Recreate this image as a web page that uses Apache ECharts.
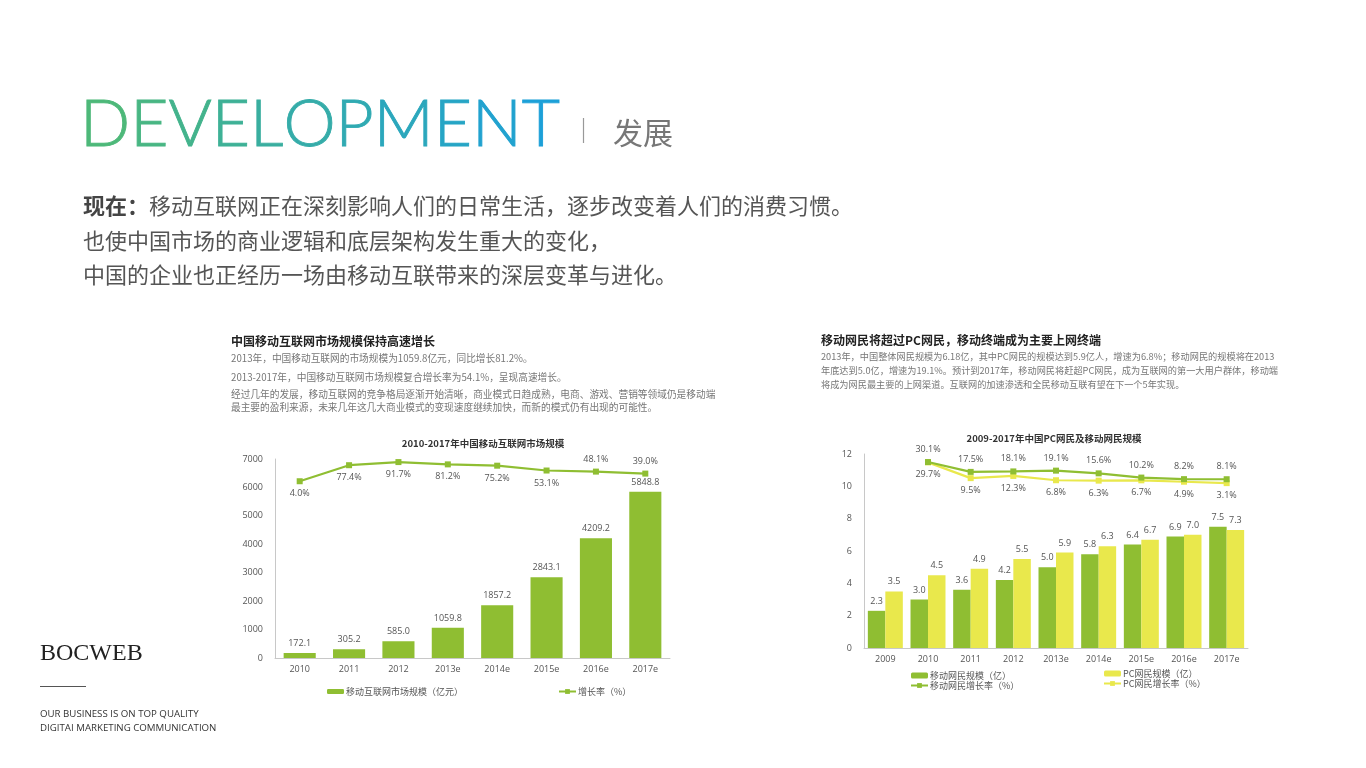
<!DOCTYPE html>
<html><head><meta charset="utf-8">
<script src="https://cdn.jsdelivr.net/npm/echarts@6/dist/echarts.min.js"></script>
<style>html,body{margin:0;padding:0;background:#fff}#c{width:1366px;height:768px}</style>
</head><body><div id="c"></div>
<script>
// ---------- data ----------
const marketYears = ['2010','2011','2012','2013e','2014e','2015e','2016e','2017e'];
const marketSize = [172.1, 305.2, 585.0, 1059.8, 1857.2, 2843.1, 4209.2, 5848.8];
const marketGrowth = [4.0, 77.4, 91.7, 81.2, 75.2, 53.1, 48.1, 39.0];
const marketGrowthLabelPos = ['bottom','bottom','bottom','bottom','bottom','bottom','top','top'];

const netYears = ['2009','2010','2011','2012','2013e','2014e','2015e','2016e','2017e'];
const mobileUsers = [2.3, 3.0, 3.6, 4.2, 5.0, 5.8, 6.4, 6.9, 7.5];
const pcUsers = [3.5, 4.5, 4.9, 5.5, 5.9, 6.3, 6.7, 7.0, 7.3];
const mobileGrowth = [null, 30.1, 17.5, 18.1, 19.1, 15.6, 10.2, 8.2, 8.1];
const pcGrowth = [null, 29.7, 9.5, 12.3, 6.8, 6.3, 6.7, 4.9, 3.1];

const headTitle = 'DEVELOPMENT';
const headSub = '发展';
const introLines = [
  '{b|现在：}移动互联网正在深刻影响人们的日常生活，逐步改变着人们的消费习惯。',
  '也使中国市场的商业逻辑和底层架构发生重大的变化，',
  '中国的企业也正经历一场由移动互联带来的深层变革与进化。'
];
const desc1Title = '中国移动互联网市场规模保持高速增长';
const desc1Lines = [
  '2013年，中国移动互联网的市场规模为1059.8亿元，同比增长81.2%。',
  '2013-2017年，中国移动互联网市场规模复合增长率为54.1%，呈现高速增长。',
  '经过几年的发展，移动互联网的竞争格局逐渐开始清晰，商业模式日趋成熟，电商、游戏、营销等领域仍是移动端',
  '最主要的盈利来源，未来几年这几大商业模式的变现速度继续加快，而新的模式仍有出现的可能性。'
];
const desc2Title = '移动网民将超过PC网民，移动终端成为主要上网终端';
const desc2Lines = [
  '2013年，中国整体网民规模为6.18亿，其中PC网民的规模达到5.9亿人，增速为6.8%；移动网民的规模将在2013',
  '年底达到5.0亿，增速为19.1%。预计到2017年，移动网民将赶超PC网民，成为互联网的第一大用户群体，移动端',
  '将成为网民最主要的上网渠道。互联网的加速渗透和全民移动互联有望在下一个5年实现。'
];
const chart1Title = '2010-2017年中国移动互联网市场规模';
const chart2Title = '2009-2017年中国PC网民及移动网民规模';

// ---------- styles ----------
const GREEN = '#8fbe32';
const YELLOW = '#e9e84c';
const AX = '#c8c8c8';
const LBL = '#555';
const CJK = '"Noto Sans CJK SC", "Noto Sans", sans-serif';

const chart = echarts.init(document.getElementById('c'));

// per-letter gradient for the headline
function mix(a, b, t) {
  const pa = [1,3,5].map(i=>parseInt(a.substr(i,2),16));
  const pb = [1,3,5].map(i=>parseInt(b.substr(i,2),16));
  return 'rgb(' + pa.map((v,k)=>Math.round(v + (pb[k]-v)*t)).join(',') + ')';
}
const headRich = {};
let headText = '';
headTitle.split('').forEach((ch,i,arr)=>{
  const c = mix('#4db879', '#1ca0d8', i/(arr.length-1));
  headRich['c'+i] = {fontSize:66, fontWeight:300, fontFamily:'Lato, "Open Sans", sans-serif', fill:c, stroke:c, lineWidth:0.9};
  headText += '{c'+i+'|'+ch+'}';
});

const graphics = [];
graphics.push({type:'text', x:80, y:125, style:{text:headText, rich:headRich, fontSize:66, fontFamily:'Lato, sans-serif', textVerticalAlign:'middle'}});
graphics.push({type:'line', shape:{x1:583.5,y1:118,x2:583.5,y2:143}, style:{stroke:'#999', lineWidth:1.2}});
graphics.push({type:'text', x:613, y:133, style:{text:headSub, fontSize:30, fontFamily:CJK, fill:'#777', textVerticalAlign:'middle'}});
const introY = [206, 241, 275];
introLines.forEach((t,i)=>graphics.push({type:'text', x:83, y:introY[i], style:{text:t, fontSize:22, fontFamily:CJK, fill:'#555', textVerticalAlign:'middle',
  rich:{b:{fontSize:22, fontFamily:CJK, fontWeight:'bold', fill:'#444'}}}}));

graphics.push({type:'text', x:231, y:341, style:{text:desc1Title, fontSize:12, fontWeight:'bold', fontFamily:CJK, fill:'#222', textVerticalAlign:'middle'}});
const d1Y = [358, 377, 394, 407];
desc1Lines.forEach((t,i)=>graphics.push({type:'text', x:231, y:d1Y[i], style:{text:t, fontSize:9.7, fontFamily:CJK, fill:'#777', textVerticalAlign:'middle'}}));
graphics.push({type:'text', x:821, y:340, style:{text:desc2Title, fontSize:12, fontWeight:'bold', fontFamily:CJK, fill:'#222', textVerticalAlign:'middle'}});
const d2Y = [357, 371, 385];
desc2Lines.forEach((t,i)=>graphics.push({type:'text', x:821, y:d2Y[i], style:{text:t, fontSize:9.2, fontFamily:CJK, fill:'#777', textVerticalAlign:'middle'}}));

graphics.push({type:'text', x:40, y:654, style:{text:'BOCWEB', fontSize:24, fontFamily:'"Liberation Serif", "DejaVu Serif", serif', fill:'#222', textVerticalAlign:'middle'}});
graphics.push({type:'line', shape:{x1:40,y1:686.5,x2:86,y2:686.5}, style:{stroke:'#555', lineWidth:1}});
graphics.push({type:'text', x:40, y:714, style:{text:'OUR BUSINESS IS ON TOP QUALITY', fontSize:9.7, fontFamily:'"Open Sans", sans-serif', fill:'#333', textVerticalAlign:'middle'}});
graphics.push({type:'text', x:40, y:728, style:{text:'DIGITAI MARKETING COMMUNICATION', fontSize:9.7, fontFamily:'"Open Sans", sans-serif', fill:'#333', textVerticalAlign:'middle'}});

const catAxis = (gi, data) => ({type:'category', gridIndex:gi, data, axisLine:{lineStyle:{color:AX}}, axisTick:{show:false},
  axisLabel:{color:LBL, fontSize:9, fontFamily:'"Open Sans", sans-serif', margin:7}});
const valAxis = (gi, min, max, interval) => ({type:'value', gridIndex:gi, min, max, interval, splitLine:{show:false},
  axisLine:{show:true, lineStyle:{color:AX}}, axisTick:{show:false},
  axisLabel:{color:LBL, fontSize:9, fontFamily:'"Open Sans", sans-serif', margin:12, formatter:v=>String(v)}});
const hidAxis = (gi, min, max) => ({type:'value', gridIndex:gi, min, max, show:false, splitLine:{show:false}});

const lblStyle = {color:LBL, fontSize:9, fontFamily:'"Open Sans", sans-serif'};
const pct = p => (p.value == null ? '' : Number(p.value).toFixed(1) + '%');

const option = {
  animation:false,
  backgroundColor:'#fff',
  title:[
    {text:chart1Title, left:478, top:434, textAlign:'center', textStyle:{fontSize:9.5, fontWeight:'bold', color:'#333', fontFamily:CJK}},
    {text:chart2Title, left:1049, top:429, textAlign:'center', textStyle:{fontSize:9.5, fontWeight:'bold', color:'#333', fontFamily:CJK}}
  ],
  grid:[
    {left:275, top:459, width:395, height:199},
    {left:864, top:454, width:384, height:194}
  ],
  xAxis:[catAxis(0, marketYears), catAxis(1, netYears)],
  yAxis:[valAxis(0,0,7000,1000), hidAxis(0,-805,105.8), valAxis(1,0,12,2), hidAxis(1,-208,40.4)],
  legend:[
    {data:['移动互联网市场规模（亿元）'], left:322, top:682, itemWidth:17, itemHeight:5, textStyle:{color:LBL, fontSize:9, fontFamily:CJK, padding:[0,0,0,-3]}},
    {data:['增长率（%）'], left:553, top:682, itemWidth:17, itemHeight:6, textStyle:{color:LBL, fontSize:9, fontFamily:CJK, padding:[0,0,0,-3]}},
    {data:['移动网民规模（亿）','移动网民增长率（%）'], orient:'vertical', itemGap:1, left:905, top:666, itemWidth:17, itemHeight:6, textStyle:{color:LBL, fontSize:9, fontFamily:CJK, padding:[0,0,0,-3]}},
    {data:['PC网民规模（亿）','PC网民增长率（%）'], orient:'vertical', itemGap:1, left:1098, top:664, itemWidth:17, itemHeight:6, textStyle:{color:LBL, fontSize:9, fontFamily:CJK, padding:[0,0,0,-3]}}
  ],
  series:[
    {name:'移动互联网市场规模（亿元）', type:'bar', xAxisIndex:0, yAxisIndex:0, data:marketSize, barCategoryGap:'35%',
      itemStyle:{color:GREEN}, label:{show:true, position:'top', distance:5, ...lblStyle, formatter:p=>p.value.toFixed(1)}},
    {name:'增长率（%）', type:'line', xAxisIndex:0, yAxisIndex:1,
      data:marketGrowth.map((v,i)=>({value:v, label:{position:marketGrowthLabelPos[i]}})),
      symbol:'rect', symbolSize:6, lineStyle:{color:GREEN, width:2.2}, itemStyle:{color:GREEN},
      label:{show:true, ...lblStyle, formatter:pct}},
    {name:'移动网民规模（亿）', type:'bar', xAxisIndex:1, yAxisIndex:2, data:mobileUsers, barCategoryGap:'18%', barGap:'0%',
      itemStyle:{color:GREEN}, label:{show:true, position:'top', distance:5, ...lblStyle, formatter:p=>p.value.toFixed(1)}},
    {name:'PC网民规模（亿）', type:'bar', xAxisIndex:1, yAxisIndex:2, data:pcUsers, barCategoryGap:'18%', barGap:'0%',
      itemStyle:{color:YELLOW}, label:{show:true, position:'top', distance:5, ...lblStyle, formatter:p=>p.value.toFixed(1)}},
    {name:'移动网民增长率（%）', type:'line', xAxisIndex:1, yAxisIndex:3, data:mobileGrowth, connectNulls:false,
      symbol:'rect', symbolSize:6, lineStyle:{color:GREEN, width:2.2}, itemStyle:{color:GREEN},
      label:{show:true, position:'top', ...lblStyle, formatter:pct}, z:3},
    {name:'PC网民增长率（%）', type:'line', xAxisIndex:1, yAxisIndex:3, data:pcGrowth, connectNulls:false,
      symbol:'rect', symbolSize:6, lineStyle:{color:YELLOW, width:2.2}, itemStyle:{color:YELLOW},
      label:{show:true, position:'bottom', ...lblStyle, formatter:pct}, z:2}
  ],
  graphic: graphics
};
chart.setOption(option);
</script></body></html>
